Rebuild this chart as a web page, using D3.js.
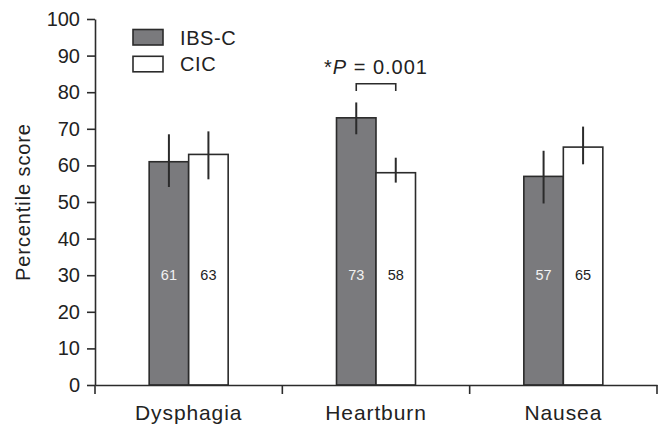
<!DOCTYPE html>
<html>
<head>
<meta charset="utf-8">
<script src="https://cdn.jsdelivr.net/npm/d3@7"></script>
<style>
  html, body { margin: 0; padding: 0; background: #fff; }
  svg { display: block; font-family: "Liberation Sans", Arial, Helvetica, sans-serif; }
</style>
</head>
<body>
<svg id="chart" width="670" height="435"></svg>
<script>
const categories = ["Dysphagia", "Heartburn", "Nausea"];
const seriesNames = ["IBS-C", "CIC"];
const ibsValues = [61, 73, 57];
const cicValues = [63, 58, 65];
const ibsErrLow = [54.1, 68.5, 49.6];
const ibsErrHigh = [68.5, 77.2, 64.0];
const cicErrLow = [56.2, 55.3, 60.3];
const cicErrHigh = [69.3, 62.1, 70.6];
const yTicks = [0, 10, 20, 30, 40, 50, 60, 70, 80, 90, 100];
const sigCategory = "Heartburn";
const sigLevel = 82.3;
const sigLabel = " = 0.001";

const colors = { "IBS-C": "#7a7a7d", "CIC": "#ffffff" };
const labelColors = { "IBS-C": "#f2f2f2", "CIC": "#222" };

const svg = d3.select("#chart");
const margin = { top: 19, right: 13, bottom: 50, left: 95 };
const W = 670, H = 435;
const x0 = margin.left, x1 = W - margin.right;
const yB = H - margin.bottom, yT = margin.top;

const x = d3.scaleBand().domain(categories).range([x0, x1]).paddingInner(0).paddingOuter(0);
const y = d3.scaleLinear().domain([0, 100]).range([yB, yT]);
const barW = 39.5;
const xs = d3.scaleBand().domain(seriesNames).range([0, 2 * barW]);
const groupLeft = c => x(c) + x.bandwidth() / 2 - barW;

const data = [];
categories.forEach((c, i) => {
  data.push({ cat: c, s: "IBS-C", v: ibsValues[i], lo: ibsErrLow[i], hi: ibsErrHigh[i] });
  data.push({ cat: c, s: "CIC", v: cicValues[i], lo: cicErrLow[i], hi: cicErrHigh[i] });
});

const ink = "#2b2b2b";

// bars
svg.append("g").selectAll("rect").data(data).join("rect")
  .attr("x", d => groupLeft(d.cat) + xs(d.s))
  .attr("y", d => y(d.v))
  .attr("width", xs.bandwidth())
  .attr("height", d => y(0) - y(d.v))
  .attr("fill", d => colors[d.s])
  .attr("stroke", ink)
  .attr("stroke-width", 1.6);

// error bars
svg.append("g").selectAll("line").data(data).join("line")
  .attr("x1", d => groupLeft(d.cat) + xs(d.s) + xs.bandwidth() / 2)
  .attr("x2", d => groupLeft(d.cat) + xs(d.s) + xs.bandwidth() / 2)
  .attr("y1", d => y(d.lo))
  .attr("y2", d => y(d.hi))
  .attr("stroke", ink)
  .attr("stroke-width", 2);

// value labels
svg.append("g").selectAll("text").data(data).join("text")
  .attr("x", d => groupLeft(d.cat) + xs(d.s) + xs.bandwidth() / 2)
  .attr("y", y(30))
  .attr("dy", "0.36em")
  .attr("text-anchor", "middle")
  .attr("font-size", 14.5)
  .attr("fill", d => labelColors[d.s])
  .text(d => d.v);

// y axis
const yAxis = svg.append("g").attr("transform", `translate(${x0},0)`)
  .call(d3.axisLeft(y).tickValues(yTicks).tickSize(8).tickPadding(7).tickSizeOuter(0));
yAxis.select(".domain").attr("stroke", ink).attr("stroke-width", 1.6);
yAxis.selectAll(".tick line").attr("stroke", ink).attr("stroke-width", 1.6);
yAxis.selectAll(".tick text").attr("font-size", 20).attr("fill", "#222").attr("font-family", "Liberation Sans, Arial, sans-serif");

// x axis
const xAxis = svg.append("g").attr("transform", `translate(0,${yB})`)
  .call(d3.axisBottom(x).tickSize(0).tickPadding(20).tickSizeOuter(0));
xAxis.select(".domain").attr("stroke", ink).attr("stroke-width", 1.6);
xAxis.selectAll(".tick text").attr("font-size", 21).attr("fill", "#222")
  .attr("letter-spacing", "0.9px").attr("font-family", "Liberation Sans, Arial, sans-serif");
// boundary ticks
const bounds = [x0].concat(categories.map(c => x(c) + x.bandwidth()));
xAxis.append("g").selectAll("line").data(bounds).join("line")
  .attr("x1", d => d).attr("x2", d => d)
  .attr("y1", 0).attr("y2", 9)
  .attr("stroke", ink).attr("stroke-width", 1.6);

// y label
svg.append("text")
  .attr("transform", `translate(30,${(yT + yB) / 2}) rotate(-90)`)
  .attr("text-anchor", "middle")
  .attr("font-size", 20)
  .attr("letter-spacing", "0.9px")
  .attr("fill", "#222")
  .text("Percentile score");

// legend
const legend = svg.append("g");
seriesNames.forEach((s, i) => {
  const g = legend.append("g").attr("transform", `translate(133,${29.5 + i * 26.8})`);
  g.append("rect").attr("width", 30).attr("height", 15.5)
    .attr("fill", colors[s]).attr("stroke", ink).attr("stroke-width", 1.6);
  g.append("text").attr("x", 47).attr("y", 15).attr("font-size", 20)
    .attr("letter-spacing", "0.6px").attr("fill", "#222").text(s);
});

// significance bracket
const cx = groupLeft(sigCategory);
const bx1 = cx + xs("IBS-C") + xs.bandwidth() / 2;
const bx2 = cx + xs("CIC") + xs.bandwidth() / 2;
svg.append("path")
  .attr("d", `M${bx1},${y(sigLevel - 2)}V${y(sigLevel)}H${bx2}V${y(sigLevel - 2)}`)
  .attr("fill", "none").attr("stroke", ink).attr("stroke-width", 1.6);
const t = svg.append("text")
  .attr("x", (bx1 + bx2) / 2)
  .attr("y", y(sigLevel) - 9.5)
  .attr("text-anchor", "middle")
  .attr("font-size", 20)
  .attr("letter-spacing", "1px")
  .style("white-space", "pre")
  .attr("fill", "#222");
t.append("tspan").text("*");
t.append("tspan").attr("font-style", "italic").text("P");
t.append("tspan").text(sigLabel);
</script>
</body>
</html>
